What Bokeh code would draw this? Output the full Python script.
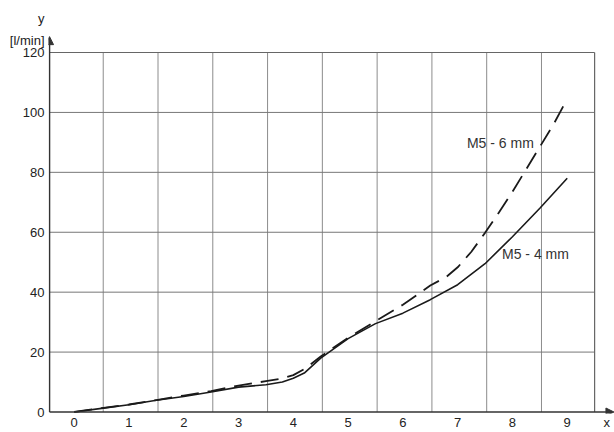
from bokeh.plotting import figure
from bokeh.models import Range1d, FixedTicker, Arrow, NormalHead
from bokeh.core.properties import value
from bokeh.embed import file_html
from bokeh.resources import INLINE

# ---- data ----
x_ticks = [0, 1, 2, 3, 4, 5, 6, 7, 8, 9]
y_ticks = [0, 20, 40, 60, 80, 100, 120]

m5_4_x = [0, 0.5, 1, 1.5, 2, 2.5, 3, 3.5, 3.8, 4, 4.2, 4.5, 5, 5.5, 6, 6.5, 7, 7.5, 8, 8.5, 9]
m5_4_y = [0, 1.2, 2.4, 3.9, 5.2, 6.7, 8.3, 9.1, 10.0, 11.3, 13.0, 18.0, 24.5, 29.5, 33.0, 37.5, 42.5, 49.5, 58.5, 68.0, 78.0]

m5_6_x = [0, 0.5, 1, 1.5, 2, 2.5, 3, 3.5, 3.8, 4, 4.2, 4.5, 5, 5.5, 6, 6.5, 6.8, 7, 7.25, 7.5, 7.75, 8, 8.25, 8.5, 8.75, 9]
m5_6_y = [0, 1.3, 2.5, 4.0, 5.5, 7.0, 8.8, 10.3, 11.2, 12.3, 14.3, 18.5, 24.8, 30.3, 35.8, 42.2, 45.2, 48.3, 53.5, 59.8, 66.5, 73.5, 81.0, 88.5, 96.0, 104.5]

series_labels = ["M5 - 6 mm", "M5 - 4 mm"]
x_name, y_name, y_unit = "x", "y", "[l/min]"

# ---- layout ----
X0, X1 = -0.45, 9.5       # plot box in data units
XSTART, XEND = -0.469, 9.863
YTOP = 120
FONT = value("Liberation Sans")

p = figure(width=614, height=432, output_backend="svg", toolbar_location=None,
           x_range=Range1d(XSTART, XEND), y_range=Range1d(-0.5, 137.36),
           min_border_left=48, min_border_right=0, min_border_top=0, min_border_bottom=19)
p.outline_line_color = None
p.grid.visible = False
p.background_fill_color = "white"
p.border_fill_color = "white"

# axes: labels only
y_unit_pos, y_name_pos, x_name_pos = 124.0, 131.3, 9.72
p.yaxis.ticker = FixedTicker(ticks=y_ticks + [y_unit_pos, y_name_pos])
p.yaxis.major_label_overrides = {y_unit_pos: y_unit, y_name_pos: y_name}
p.xaxis.ticker = FixedTicker(ticks=x_ticks + [x_name_pos])
p.xaxis.major_label_overrides = {x_name_pos: x_name}
for ax in (p.xaxis, p.yaxis):
    ax.axis_line_color = None
    ax.major_tick_line_color = None
    ax.minor_tick_line_color = None
    ax.major_tick_out = 0
    ax.major_tick_in = 0
    ax.minor_tick_out = 0
    ax.minor_tick_in = 0
    ax.axis_label_standoff = 0
    ax.major_label_text_font = "Liberation Sans"
    ax.major_label_text_font_size = "13px"
    ax.major_label_text_color = "#222222"
p.yaxis.major_label_standoff = 4
p.xaxis.major_label_standoff = 1

# grid
gx = [k + 0.53 for k in x_ticks[:-1]]
p.segment(x0=gx, y0=[0] * len(gx), x1=gx, y1=[YTOP] * len(gx), line_color="#8c8c8c", line_width=1)
gy = y_ticks[1:-1]
p.segment(x0=[X0] * len(gy), y0=gy, x1=[X1] * len(gy), y1=gy, line_color="#777777", line_width=1)
# border top / right
p.segment(x0=[X0, X1], y0=[YTOP, 0], x1=[X1, X1], y1=[YTOP, YTOP], line_color="#666666", line_width=1.2)

# axis lines with arrows
p.add_layout(Arrow(end=NormalHead(size=8, fill_color="#333333", line_color="#333333", line_width=1),
                   x_start=X0, y_start=0, x_end=X0, y_end=125.3, line_color="#333333", line_width=1.5))
p.add_layout(Arrow(end=NormalHead(size=8, fill_color="#333333", line_color="#333333", line_width=1),
                   x_start=X0, y_start=0, x_end=XEND - 0.01, y_end=0, line_color="#333333", line_width=1.5))

# curves
p.line(m5_4_x, m5_4_y, line_color="#1a1a1a", line_width=1.6)
p.line(m5_6_x, m5_6_y, line_color="#1a1a1a", line_width=1.8, line_dash="18 9")

p.text(x=[7.78, 8.42], y=[89.7, 52.8], text=series_labels, text_font=FONT, text_font_size="14px",
       text_align="center", text_baseline="middle", text_color="#333333")

open("out.html", "w").write(file_html(p, INLINE))
